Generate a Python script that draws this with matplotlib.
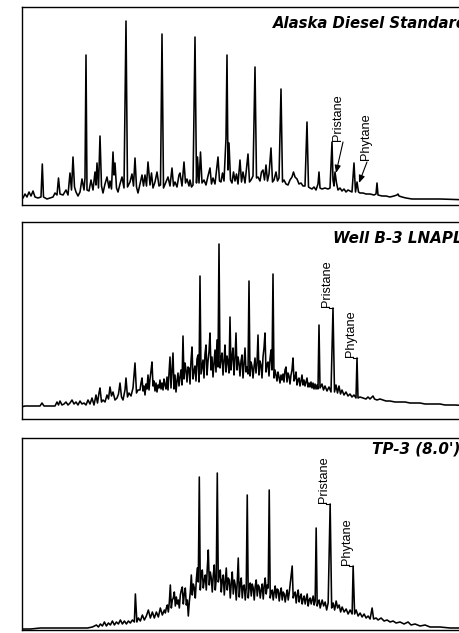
import matplotlib
matplotlib.use("Agg")
import matplotlib.pyplot as plt

# ---------------------------------------------------------------------------
# GC-FID traces (retention index vs. detector response, arbitrary units)
# ---------------------------------------------------------------------------

# Alaska diesel standard
diesel_rt = [
    21, 23, 25, 27, 29, 31, 33, 35, 38, 41, 42.3, 43.5, 47, 50, 53, 55, 57, 58.5, 60, 63,
    66, 68, 70, 71.5, 73, 74.5, 76, 78, 80, 82, 84, 85, 86, 87, 89, 91, 93, 95, 96, 97,
    98.5, 100, 101.5, 103, 105, 107, 109, 110, 111.5, 113, 114, 115, 116.5, 118, 120, 122, 124, 126, 127.5, 130,
    132, 133.5, 135, 136.5, 138, 140, 142, 143.5, 145, 146.5, 148, 150, 151.5, 153, 155, 157, 159, 160.5, 162, 163.5,
    166, 168, 170, 172, 173.5, 175, 177, 179, 180, 182, 184, 185.5, 187, 189, 190, 191.5, 193, 195, 196.5, 197.5,
    199, 200.5, 202, 204, 206, 208, 210, 211.5, 213, 215, 216.5, 218, 219.5, 221, 222.5, 224, 226, 227, 228, 229,
    230.5, 232, 233.5, 235, 236.5, 238, 240, 241.5, 243, 245, 246.5, 248, 249.5, 251, 253, 255, 256.5, 258, 260, 261.5,
    263, 264.5, 266, 267.5, 269, 271, 272.5, 274, 276, 277.5, 279, 281, 282.5, 284, 286, 288, 290, 292, 293.5, 295,
    297, 299, 301, 303, 305, 307, 308.5, 310, 312, 314, 316, 318, 319, 320, 322, 325, 328, 330, 332, 333,
    334, 335, 336.5, 338, 340, 342, 344, 346, 348, 350, 352, 354, 355.5, 357, 358.5, 360, 363, 366, 370, 374,
    376, 377, 378, 382, 386, 390, 394, 397, 398, 399, 402, 406, 412, 420, 440, 470,
]
diesel_signal = [
    4, 6, 10, 7, 12, 8, 13, 7, 6, 7, 40, 7, 5, 6, 7, 11, 9, 26, 10, 9,
    14, 9, 31, 14, 47, 17, 12, 8, 12, 25, 14, 26, 149, 14, 13, 24, 14, 32, 19, 41,
    16, 68, 18, 11, 20, 27, 16, 23, 15, 52, 29, 41, 16, 12, 20, 27, 16, 183, 17, 22,
    30, 18, 46, 17, 11, 20, 29, 18, 29, 18, 42, 19, 31, 16, 22, 32, 18, 19, 170, 16,
    22, 27, 18, 36, 18, 22, 17, 29, 31, 18, 42, 21, 25, 18, 24, 17, 19, 167, 21, 47,
    21, 52, 21, 24, 19, 28, 36, 20, 26, 20, 34, 47, 23, 22, 31, 23, 66, 149, 34, 61,
    24, 21, 32, 23, 30, 20, 44, 22, 32, 21, 36, 50, 22, 24, 28, 137, 26, 27, 23, 32,
    34, 24, 39, 23, 30, 56, 22, 24, 32, 23, 26, 115, 22, 24, 20, 19, 24, 27, 32, 27,
    25, 20, 21, 18, 18, 82, 17, 16, 15, 17, 14, 20, 32, 16, 15, 16, 15, 16, 62, 24,
    18, 32, 21, 14, 16, 13, 15, 12, 14, 13, 12, 41, 12, 22, 12, 11, 11, 10, 10, 9,
    10, 21, 9, 8, 8, 7, 8, 9, 10, 8, 7, 6, 5, 5, 5, 4,
]

# Well B-3 LNAPL: early eluters, unresolved hump (1-unit sampling), late eluters
lnapl_rt = [
    21, 25, 30, 35, 40, 42, 44, 50, 55, 57, 58.5, 60, 62, 64, 66, 68, 70, 72, 74, 76,
    78, 80, 82, 84, 86, 88, 90, 92, 94, 96, 97.5, 99, 100, 101.5, 103, 105, 107, 108.5, 110, 111.5,
    113, 115, 117, 118.5, 120, 121.5, 123, 125, 126, 127.5, 129, 131, 133, 135, 136.5, 138,
] + list(range(140, 321)) + [
    322, 323.5, 325, 327, 329, 331, 333, 334.5, 336, 337.5, 339, 340.5, 342, 344, 346, 348, 350, 352, 354, 356,
    357, 358, 360, 363, 366, 368, 370, 373, 374.5, 377, 380, 383, 386, 390, 395, 400, 405, 410, 415, 420,
    425, 430, 435, 440, 445, 450, 455, 470,
]
lnapl_signal = [
    12, 13, 13, 13, 13, 16, 13, 13, 13, 17, 14, 18, 14, 15, 17, 14, 16, 19, 15, 17,
    14, 18, 15, 16, 14, 19, 15, 21, 14, 24, 16, 26, 31, 17, 19, 17, 24, 20, 32, 23,
    27, 19, 21, 25, 36, 22, 19, 29, 41, 22, 26, 23, 31, 56, 26, 29,
    # 140 .. 320
    29, 36, 41, 28, 33, 24, 35, 30, 44, 29,
    40, 48, 57, 33, 38, 28, 36, 27, 34, 31,
    39, 30, 36, 29, 40, 34, 30, 42, 29, 45,
    62, 31, 48, 66, 30, 44, 27, 38, 46, 33,
    42, 49, 34, 83, 40, 56, 49, 37, 52, 51,
    35, 58, 72, 40, 48, 53, 38, 60, 64, 37,
    143, 45, 52, 59, 41, 65, 74, 44, 58, 67,
    86, 49, 62, 42, 55, 69, 47, 79, 52, 175,
    51, 60, 66, 44, 58, 74, 47, 63, 57, 46,
    102, 49, 62, 71, 44, 60, 86, 49, 62, 56,
    43, 58, 64, 41, 55, 71, 47, 52, 45, 138,
    43, 57, 53, 41, 52, 61, 46, 55, 84, 44,
    58, 54, 41, 62, 71, 86, 47, 55, 57, 43,
    60, 69, 49, 145, 41, 49, 44, 38, 47, 42,
    36, 44, 39, 45, 37, 49, 52, 37, 46, 43,
    35, 44, 49, 61, 38, 41, 47, 34, 39, 41,
    33, 38, 44, 34, 39, 33, 37, 41, 32, 36,
    32, 37, 31, 36, 30, 35, 30, 34, 30, 94,
    31,
    # 322 ..
    35, 29, 33, 28, 32, 27, 111, 27, 34, 26, 33, 25, 29, 24, 27, 23, 25, 22, 24, 21,
    61, 21, 22, 21, 20, 22, 20, 23, 20, 19, 20, 19, 18, 18, 17, 17, 17, 16, 16, 16,
    15, 15, 15, 15, 14, 14, 14, 13,
]

# TP-3 (8.0')
tp3_rt = [
    21, 30, 40, 50, 60, 70, 80, 87, 92, 96, 98, 100, 102, 104, 106, 108, 110, 112, 114, 116,
    118, 120, 122, 124, 126, 128, 130, 132, 134, 135, 136.5, 138, 140, 142, 144, 146, 148, 150, 152, 154,
    156, 158, 160, 162, 164,
] + list(range(165, 321)) + [
    322, 323.5, 325, 326.5, 328, 330, 331.5, 333, 334.5, 336, 337.5, 339, 340.5, 342, 344, 346, 348, 350, 352, 353,
    354.5, 356, 358, 360, 362, 364, 366, 368, 370, 372, 373.5, 376, 378, 381, 384, 387, 390, 393, 396, 400,
    404, 408, 411, 415, 420, 425, 430, 440, 450, 470,
]
tp3_signal = [
    1, 1, 2, 2, 2, 2, 2, 2, 3, 5, 3, 6, 4, 8, 4, 7, 5, 9, 5, 8,
    6, 10, 6, 9, 6, 9, 7, 10, 8, 36, 8, 12, 9, 15, 10, 14, 20, 12, 18, 12,
    18, 13, 22, 15, 20,
    # 165 .. 320
    17, 22, 25, 18, 28,
    45, 22, 30, 32, 38, 24, 33, 26, 30, 22,
    35, 40, 43, 26, 36, 42, 25, 30, 14, 28,
    38, 55, 35, 46, 42, 32, 50, 62, 48, 153,
    40, 56, 60, 42, 50, 55, 40, 62, 80, 45,
    58, 52, 38, 55, 65, 40, 52, 157, 48, 55,
    60, 38, 50, 55, 35, 48, 62, 40, 52, 50,
    32, 47, 58, 36, 50, 45, 30, 48, 72, 33,
    46, 52, 32, 44, 45, 30, 42, 135, 32, 44,
    47, 34, 46, 42, 30, 44, 50, 34, 45, 43,
    32, 40, 46, 31, 44, 52, 36, 45, 42, 140,
    32, 38, 40, 30, 38, 44, 32, 41, 40, 29,
    37, 42, 30, 38, 36, 28, 35, 40, 30, 37,
    46, 55, 64, 32, 36, 38, 27, 35, 40, 28,
    33, 36, 26, 31, 34, 26, 31, 36, 24, 30,
    32, 26, 30, 34, 25, 29, 102, 24, 28, 30,
    22,
    # 322 ..
    30, 24, 28, 20, 27, 126, 22, 27, 20, 29, 22, 25, 18, 23, 18, 21, 16, 20, 16, 64,
    16, 20, 14, 17, 13, 16, 12, 14, 11, 22, 11, 12, 10, 12, 9, 10, 8, 9, 7, 8,
    6, 8, 5, 6, 4, 5, 3, 3, 2, 2,
]

# Isoprenoid markers (retention index of each peak)
diesel_pristane_rt, diesel_phytane_rt = 335, 357
lnapl_pristane_rt, lnapl_phytane_rt = 333, 357
tp3_pristane_rt, tp3_phytane_rt = 330, 353

titles = ["Alaska Diesel Standard", "Well B-3 LNAPL", "TP-3 (8.0')"]

# ---------------------------------------------------------------------------
W, H = 459, 633
fig = plt.figure(figsize=(W / 100, H / 100), dpi=100)
fig.patch.set_facecolor("white")


def panel(left, top, right, bottom):
    return fig.add_axes([left / W, 1 - bottom / H, (right - left) / W, (bottom - top) / H])


ax1 = panel(21.5, 7, 470, 204.5)
ax2 = panel(21.5, 222, 470, 419)
ax3 = panel(22, 438, 470, 630)

for ax, rt, sig, ylim in [
    (ax1, diesel_rt, diesel_signal, (-0.5, 197)),
    (ax2, lnapl_rt, lnapl_signal, (0, 197)),
    (ax3, tp3_rt, tp3_signal, (0, 192)),
]:
    ax.plot(rt, sig, color="black", lw=1.15, solid_joinstyle="round")
    ax.set_xlim(21.5, 470)
    ax.set_ylim(*ylim)
    ax.set_xticks([])
    ax.set_yticks([])
    for sp in ax.spines.values():
        sp.set_color("black")
        sp.set_linewidth(1.0)

# sample names, bold italic, top right (they run on past the frame edge)
title_pos = [(273, 28.5, 10.7), (333, 243, 10.9), (372, 454, 10.9)]
for text, (x, y, size) in zip(titles, title_pos):
    fig.text(x / W, 1 - y / H, text, ha="left", va="baseline",
             fontsize=size, fontweight="bold", fontstyle="italic",
             family="DejaVu Sans", color="black")

label_kw = dict(rotation=90, ha="center", va="bottom", fontsize=9.2,
                family="Liberation Sans", color="black")

# diesel standard: labels with arrows pointing at the peaks
pr_top = diesel_signal[diesel_rt.index(diesel_pristane_rt)]
ph_top = diesel_signal[diesel_rt.index(diesel_phytane_rt)]
ax1.text(338, 63, "Pristane", **label_kw)
ax1.text(366, 44, "Phytane", **label_kw)
arrow = dict(arrowstyle="-|>,head_length=0.45,head_width=0.18", color="black", lw=0.8,
             shrinkA=0, shrinkB=0)
ax1.annotate("", xy=(diesel_pristane_rt + 1, pr_top - 1), xytext=(343, 62), arrowprops=arrow)
ax1.annotate("", xy=(diesel_phytane_rt + 2, ph_top - 1), xytext=(367, 42), arrowprops=arrow)

# field samples: labels sitting on top of the peaks with a short leader
for ax, rt, sig, prt, pht in [
    (ax2, lnapl_rt, lnapl_signal, lnapl_pristane_rt, lnapl_phytane_rt),
    (ax3, tp3_rt, tp3_signal, tp3_pristane_rt, tp3_phytane_rt),
]:
    for name, prx in [("Pristane", prt), ("Phytane", pht)]:
        top = sig[rt.index(prx)]
        ax.text(prx - 6, top + 1, name, **label_kw)
        ax.plot([prx - 4.5, prx], [top, top], color="black", lw=0.8)

fig.savefig("out.png", dpi=100, facecolor="white")
